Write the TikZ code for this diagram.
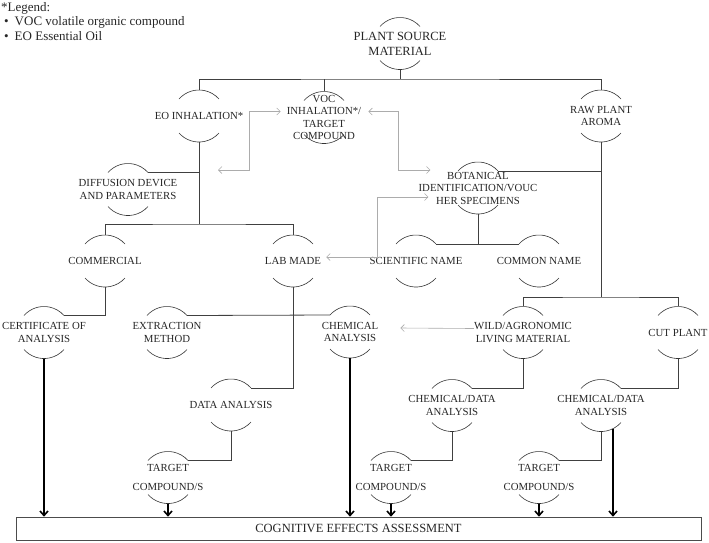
\documentclass[tikz,border=0pt]{standalone}
\usepackage{fontspec}
\setmainfont{Liberation Serif}
\usetikzlibrary{arrows.meta}
\tikzset{barb/.tip={Straight Barb[length=3.5pt,width=7pt]},
  bigbarb/.tip={Straight Barb[length=4.5pt,width=8pt]}}
\begin{document}
\begin{tikzpicture}[x=1pt,y=-1pt,
    every node/.style={text=black!85},
    topic/.style={align=center,font=\fontsize{10.8}{12.5}\selectfont,inner sep=0pt,minimum height=52pt},
    legend/.style={anchor=west,inner sep=0pt,font=\fontsize{13}{14}\selectfont},
    bow/.style={draw=black!80,line width=0.6pt},
    tree/.style={draw=black!75,line width=0.8pt},
    link/.style={draw=gray!65,line width=0.6pt},
    feed/.style={draw=black,line width=1.6pt,-bigbarb}]
  \useasboundingbox (0,0) rectangle (709,542);
  % legend
  \node[legend] (leg) at (1,8) {*Legend:};
  \node[legend] (leg1) at (4,22) {\textbullet\hspace{6pt}VOC volatile organic compound};
  \node[legend] (leg2) at (4,36) {\textbullet\hspace{6pt}EO Essential Oil};
  % topics
  \node[topic,font=\fontsize{12.5}{15}\selectfont] (plant) at (400,43.5) {PLANT SOURCE\\MATERIAL};
  \node[topic] (eo) at (199,116) {EO INHALATION*};
  \node[topic] (voc) at (324,117.5) {VOC\\INHALATION*/\\TARGET\\COMPOUND};
  \node[topic] (raw) at (601,116) {RAW PLANT\\AROMA};
  \node[topic] (dda) at (128,189.5) {DIFFUSION DEVICE\\AND PARAMETERS};
  \node[topic] (bot) at (478,188) {BOTANICAL\\IDENTIFICATION/VOUC\\HER SPECIMENS};
  \node[topic] (comm) at (105,261) {COMMERCIAL};
  \node[topic] (lab) at (293,261) {LAB MADE};
  \node[topic] (sci) at (416,261) {SCIENTIFIC NAME};
  \node[topic] (com) at (539,261) {COMMON NAME};
  \node[topic] (cert) at (44,332.5) {CERTIFICATE OF\\ANALYSIS};
  \node[topic] (ext) at (167,332.5) {EXTRACTION\\METHOD};
  \node[topic] (chem) at (350,332) {CHEMICAL\\ANALYSIS};
  \node[topic] (wild) at (523,332.5) {WILD/AGRONOMIC\\LIVING MATERIAL};
  \node[topic] (cut) at (678,332.5) {CUT PLANT};
  \node[topic] (data) at (231,405) {DATA ANALYSIS};
  \node[topic] (cd1) at (452,405.5) {CHEMICAL/DATA\\ANALYSIS};
  \node[topic] (cd2) at (601,405.5) {CHEMICAL/DATA\\ANALYSIS};
  \node[topic] (tc1) at (168,477.5) {TARGET\\[6.5pt]COMPOUND/S};
  \node[topic] (tc2) at (391,477.5) {TARGET\\[6.5pt]COMPOUND/S};
  \node[topic] (tc3) at (539,477.5) {TARGET\\[6.5pt]COMPOUND/S};
  \node[draw=black!70,line width=0.6pt,minimum width=685pt,minimum height=23pt,inner sep=0pt,
    font=\fontsize{12.5}{15}\selectfont] (cea) at (358.5,528.5) {COGNITIVE EFFECTS ASSESSMENT};
  % arcs above and below each topic
  \foreach \n in {plant,eo,voc,raw,dda,bot,comm,lab,sci,com,cert,ext,chem,wild,cut,data,cd1,cd2,tc1,tc2,tc3}{
    \draw[bow] ([shift={(-20pt,17pt)}]\n.center) coordinate (\n-tl)
      arc[start angle=138.5,end angle=41.5,radius=26.7pt] coordinate (\n-tr);
    \draw[bow] ([shift={(-20pt,-17pt)}]\n.center) coordinate (\n-bl)
      arc[start angle=221.5,end angle=318.5,radius=26.7pt] coordinate (\n-br);
  }
  % tree
  \coordinate (top) at (400,79);
  \coordinate (fork) at (199,224);
  \coordinate (rawfork) at (601,297);
  \draw[tree] (plant.south) -- (top);
  \draw[tree] (eo.north) |- (top) -| (raw.north);
  \draw[tree] (voc.north) -- (voc.north |- top);
  \draw[tree] (eo.south) -- (fork);
  \draw[tree] (comm.north) |- (fork) -| (lab.north);
  \draw[tree] (dda-tr) -- (dda-tr -| eo.south);
  \draw[tree] (raw.south) -- (rawfork);
  \draw[tree] (wild.north) |- (rawfork) -| (cut.north);
  \draw[tree] (bot-tr) -- (bot-tr -| raw.south);
  \draw[tree] (bot.south) -- (bot.south |- sci-tr);
  \draw[tree] (sci-tr) -- (com-tl);
  \draw[tree] (comm.south) |- (cert-tr);
  \draw[tree] (lab.south) |- (data-tr);
  \draw[tree] (ext-tr) -- (chem-tl);
  \draw[tree] (data.south) |- (tc1-tr);
  \draw[tree] (wild.south) |- (cd1-tr);
  \draw[tree] (cut.south) |- (cd2-tr);
  \draw[tree] (cd1.south) |- (tc2-tr);
  \draw[tree] (cd2.south) |- (tc3-tr);
  % grey cross links
  \coordinate (ga) at (218,170);
  \draw[link,barb-barb] (ga) -- ++(31,0) |- ([shift={(-6pt,6pt)}]voc.west);
  \draw[link,barb-barb] ([shift={(7pt,6pt)}]voc.east) -- ++(30,0) |- ([shift={(12pt,18pt)}]bot.west);
  \draw[link,barb-barb] ([shift={(5pt,4pt)}]lab.east) -- ++(51,0) |- ([shift={(10pt,-9pt)}]bot.west);
  \draw[link,-barb] ([yshift=4pt]wild.west) -- ([shift={(22pt,4pt)}]chem.east);
  % into the assessment
  \draw[feed] (cert.south) -- (cert.south |- cea.north);
  \draw[feed] (chem.south) -- (chem.south |- cea.north);
  \foreach \n in {tc1,tc2,tc3}
    \draw[feed] (\n.south) -- (\n.south |- cea.north);
  \coordinate (cdx) at ([xshift=12pt]cd2.south);
  \draw[feed] ([yshift=3pt]cdx) -- (cdx |- cea.north);
\end{tikzpicture}
\end{document}
